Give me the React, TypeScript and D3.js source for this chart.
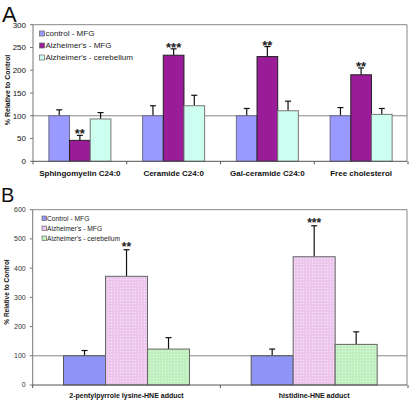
import React from "react";
import * as d3 from "d3";

const seriesA = ["control - MFG", "Alzheimer's - MFG", "Alzheimer's - cerebellum"];
const catsA = ["Sphingomyelin C24:0", "Ceramide C24:0", "Gal-ceramide C24:0", "Free cholesterol"];
const valuesA = [
  [100, 46, 93],
  [100, 233, 122],
  [100, 230, 111],
  [100, 190, 103],
];
const errA = [
  [113, 57, 107],
  [122, 247, 145],
  [116, 252, 132],
  [118, 205, 116],
];
const starsA = ["**", "***", "**", "**"];
const ticksA = [0, 50, 100, 150, 200, 250, 300];

const seriesB = ["Control - MFG", "Alzheimer's - MFG", "Alzheimer's - cerebellum"];
const catsB = ["2-pentylpyrrole lysine-HNE adduct", "histidine-HNE adduct"];
const valuesB = [
  [100, 372, 123],
  [100, 439, 139],
];
const errB = [
  [118, 463, 162],
  [123, 545, 182],
];
const starsB = ["**", "***"];
const ticksB = [0, 100, 200, 300, 400, 500, 600];

const colorsA = ["#9999ff", "#9a1c98", "#ccfff0"];
const strokesA = ["#6b6b8a", "#222222", "#777777"];
const colorsB = ["#8f95f6", "url(#pinkPat)", "url(#greenPat)"];
const legendB = ["#8f95f6", "#ecc8ec", "#c4f2c4"];

const FONT = "'Liberation Sans', Arial, sans-serif";

function Panel({
  cats, series, values, errs, stars, ticks, yMax, left, right, top, bottom,
  groupW, fills, strokes, legendFills, legend, fs, catFs, catY, starFs, starDy, boxRight, tickColor,
}: any) {
  const x0 = d3.scaleBand<string>().domain(cats).range([left, right]);
  const step = x0.step();
  const p = 1 - groupW / step;
  x0.paddingInner(p).paddingOuter(p / 2);
  const x1 = d3.scaleBand<number>().domain(d3.range(series.length)).range([0, x0.bandwidth()]);
  const y = d3.scaleLinear().domain([0, yMax]).range([bottom, top]);
  const capW = 3;
  return (
    <g fontFamily={FONT}>
      <line x1={left} x2={boxRight} y1={top} y2={top} stroke="#888" strokeWidth={1} />
      <line x1={boxRight} x2={boxRight} y1={top} y2={bottom} stroke="#888" strokeWidth={1} />
      <line x1={left} x2={boxRight} y1={y(100)} y2={y(100)} stroke="#888" strokeWidth={1} />
      {cats.map((c: string, i: number) => (
        <g key={c}>
          {values[i].map((v: number, j: number) => {
            const bx = (x0(c) as number) + (x1(j) as number);
            const cx = bx + x1.bandwidth() / 2;
            return (
              <g key={j}>
                <line x1={cx} x2={cx} y1={y(v)} y2={y(errs[i][j])} stroke="#111" strokeWidth={1.2} />
                <line x1={cx - capW} x2={cx + capW} y1={y(errs[i][j])} y2={y(errs[i][j])} stroke="#111" strokeWidth={1.2} />
                <rect x={bx} y={y(v)} width={x1.bandwidth()} height={y(0) - y(v)} fill={fills[j]} stroke={strokes[j]} strokeWidth={1} />
              </g>
            );
          })}
          <text
            x={(x0(c) as number) + (x1(1) as number) + x1.bandwidth() / 2}
            y={y(errs[i][1]) - starDy}
            textAnchor="middle"
            fontSize={starFs}
            fontWeight="bold"
            fill="#222"
          >
            {stars[i]}
          </text>
          <text x={(x0(c) as number) + x0.bandwidth() / 2} y={catY} textAnchor="middle" fontSize={catFs} fontWeight="bold" fill="#111">
            {c}
          </text>
        </g>
      ))}
      <line x1={left} x2={left} y1={top} y2={bottom} stroke="#777" strokeWidth={1} />
      <line x1={left} x2={boxRight} y1={bottom} y2={bottom} stroke="#555" strokeWidth={1} />
      {ticks.map((t: number) => (
        <g key={t}>
          <line x1={left - 3} x2={left} y1={y(t)} y2={y(t)} stroke="#777" />
          <text x={left - 7} y={y(t)} dy="0.35em" textAnchor="end" fontSize={fs} fill={tickColor}>
            {t}
          </text>
        </g>
      ))}
      {d3.range(cats.length + 1).map((k) => {
        const tx = left + k * step;
        return <line key={k} x1={tx} x2={tx} y1={bottom} y2={bottom + 3} stroke="#555" />;
      })}
      {legend.items.map((s: string, j: number) => (
        <g key={s}>
          <rect x={legend.x} y={legend.y + j * legend.dy - legend.sq / 2} width={legend.sq} height={legend.sq} fill={legendFills[j]} stroke="#666" strokeWidth={0.7} />
          <text x={legend.tx} y={legend.y + j * legend.dy} dy="0.35em" fontSize={legend.fs} fill="#222">
            {s}
          </text>
        </g>
      ))}
    </g>
  );
}

export default function App() {
  return (
    <svg width={410} height={401} style={{ position: "absolute", left: 0, top: 0, background: "#fff" }}>
      <defs>
        <pattern id="pinkPat" width={3} height={3} patternUnits="userSpaceOnUse">
          <rect width={3} height={3} fill="#ecc6ec" />
          <rect width={1} height={1} fill="#f8e8f8" />
        </pattern>
        <pattern id="greenPat" width={3} height={3} patternUnits="userSpaceOnUse">
          <rect width={3} height={3} fill="#c0f0c0" />
          <rect width={1} height={1} fill="#e4fae4" />
        </pattern>
      </defs>
      <text x={2} y={21.5} fontFamily={FONT} fontSize={22} fill="#111">A</text>
      <text x={1} y={202} fontFamily={FONT} fontSize={20} fill="#111">B</text>
      <text transform="translate(9.5,90) rotate(-90)" textAnchor="middle" fontFamily={FONT} fontSize={7} fontWeight="bold" fill="#111">
        % Relative to Control
      </text>
      <text transform="translate(8.5,292) rotate(-90)" textAnchor="middle" fontFamily={FONT} fontSize={6.5} fontWeight="bold" fill="#111">
        % Relative to Control
      </text>
      <Panel
        cats={catsA} series={seriesA} values={valuesA} errs={errA} stars={starsA} ticks={ticksA}
        yMax={300} left={33} right={408} top={24.7} bottom={161.3} groupW={62}
        fills={colorsA} strokes={strokesA} legendFills={colorsA}
        legend={{ items: seriesA, x: 39.5, tx: 45.5, y: 33.5, dy: 12, sq: 5, fs: 8 }}
        fs={8} catFs={8} catY={176} starFs={13} starDy={-3} boxRight={407} tickColor="#111"
      />
      <Panel
        cats={catsB} series={seriesB} values={valuesB} errs={errB} stars={starsB} ticks={ticksB}
        yMax={600} left={32.7} right={408} top={209.7} bottom={385} groupW={126}
        fills={colorsB} strokes={["#555", "#666", "#666"]} legendFills={legendB}
        legend={{ items: seriesB, x: 42, tx: 47, y: 218.3, dy: 10, sq: 4.5, fs: 6.7 }}
        fs={7} catFs={7} catY={398} starFs={12} starDy={-1} boxRight={407} tickColor="#333"
      />
    </svg>
  );
}
